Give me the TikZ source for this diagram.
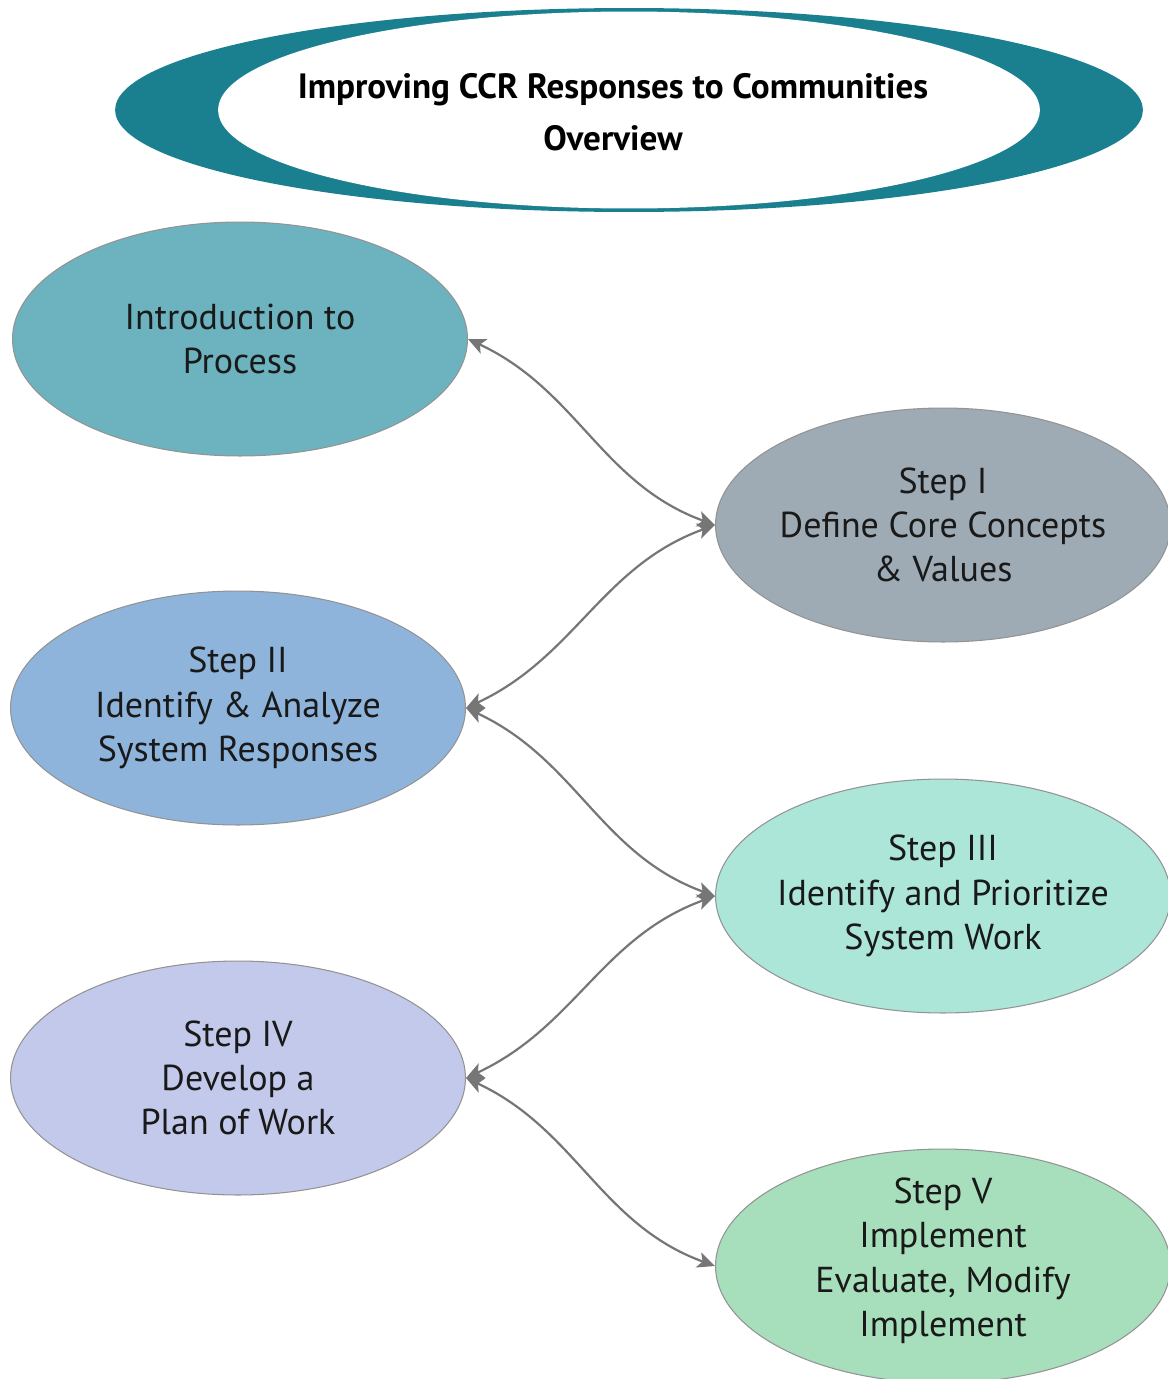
\documentclass[tikz,border=0pt]{standalone}
\usepackage{fontspec}
\setmainfont{PT Sans}
\usepackage{xcolor}
\usetikzlibrary{shapes, arrows.meta, positioning}

\definecolor{ringteal}{HTML}{1A808F}
\definecolor{introfill}{HTML}{6DB3BF}
\definecolor{onefill}{HTML}{9EABB4}
\definecolor{twofill}{HTML}{8FB4DC}
\definecolor{threefill}{HTML}{ACE6D9}
\definecolor{fourfill}{HTML}{C3C9EA}
\definecolor{fivefill}{HTML}{A7DFBC}
\definecolor{linkgray}{HTML}{767676}

\begin{document}
\begin{tikzpicture}[
    x=0.02cm, y=-0.02cm,
    stepbox/.style={ellipse, draw=gray!85, line width=0.6pt, minimum width=9.1cm, minimum height=4.68cm, inner sep=0pt},
    steptext/.style={align=center, font=\fontsize{20.5}{25.2}\selectfont, text=black!90},
    titletext/.style={align=center, font=\bfseries\fontsize{20}{29.5}\selectfont},
    link/.style={<->, >={Stealth[length=10pt, width=9pt, inset=2.5pt]}, draw=linkgray, line width=1.25pt}
]
\useasboundingbox (0,0) rectangle (1168,1379);

% title ring
\node[ellipse, fill=ringteal, minimum width=20.56cm, minimum height=4.08cm] (ring) at (629,110) {};
\node[ellipse, fill=white, minimum width=16.44cm, minimum height=3.94cm] (hole) at (629,110) {};
\node[titletext] (title) at (613,112) {Improving CCR Responses to Communities\\Overview};

% steps
\node[stepbox, fill=introfill] (intro) at (240,339) {};
\node[stepbox, fill=onefill] (one) at (943,525) {};
\node[stepbox, fill=twofill] (two) at (238,708) {};
\node[stepbox, fill=threefill] (three) at (943,896) {};
\node[stepbox, fill=fourfill] (four) at (238,1078) {};
\node[stepbox, fill=fivefill] (five) at (943,1266) {};

\node[steptext] (introtxt) at (intro) {Introduction to\\Process};
\node[steptext] (onetxt) at (one) {Step I\\Define Core Concepts\\\& Values};
\node[steptext] (twotxt) at (two) {Step II\\Identify \& Analyze\\System Responses};
\node[steptext] (threetxt) at (three) {Step III\\Identify and Prioritize\\System Work};
\node[steptext] (fourtxt) at (four) {Step IV\\Develop a\\Plan of Work};
\node[steptext] (fivetxt) at ([yshift=3pt]five) {Step V\\Implement\\Evaluate, Modify\\Implement};

% links
\draw[link] (intro.east) to[out=-25, in=160] (one.west);
\draw[link] (one.west) to[out=200, in=25] (two.east);
\draw[link] (two.east) to[out=-25, in=160] (three.west);
\draw[link] (three.west) to[out=200, in=25] (four.east);
\draw[link] (four.east) to[out=-25, in=160] (five.west);

\end{tikzpicture}
\end{document}
